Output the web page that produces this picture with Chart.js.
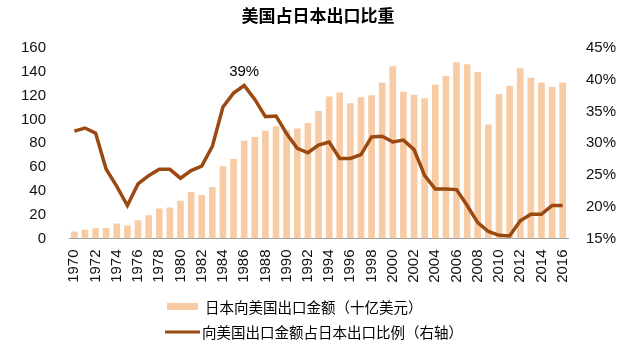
<!DOCTYPE html>
<html>
<head>
<meta charset="utf-8">
<script src="https://cdn.jsdelivr.net/npm/chart.js@4"></script>
<style>
  html, body { margin: 0; padding: 0; background: #fff; }
  #wrap { width: 639px; height: 360px; position: relative; }
</style>
</head>
<body>
<div id="wrap"><canvas id="chart" width="639" height="360"></canvas></div>
<script>
// 年份
const years = [
    '1970', '1971', '1972', '1973', '1974', '1975', '1976', '1977', '1978', '1979',
    '1980', '1981', '1982', '1983', '1984', '1985', '1986', '1987', '1988', '1989',
    '1990', '1991', '1992', '1993', '1994', '1995', '1996', '1997', '1998', '1999',
    '2000', '2001', '2002', '2003', '2004', '2005', '2006', '2007', '2008', '2009',
    '2010', '2011', '2012', '2013', '2014', '2015', '2016'
];

// 日本向美国出口金额（十亿美元）
const exportsToUS = [
    5.9, 7.3, 8.7, 8.9, 12.6, 11.0, 15.4, 19.6, 25.3, 26.0,
    31.7, 39.0, 36.5, 43.2, 60.6, 66.8, 82.0, 85.3, 90.4, 94.3,
    91.0, 92.4, 97.0, 107.0, 119.3, 122.7, 113.7, 118.7, 120.4, 130.8,
    144.6, 123.2, 120.7, 117.9, 129.1, 136.4, 148.0, 146.3, 139.8, 95.7,
    121.3, 128.3, 142.9, 135.0, 131.1, 127.2, 131.1
];

// 向美国出口金额占日本出口比例 (%)
const shareOfExports = [
    31.9, 32.4, 31.6, 25.9, 23.2, 20.2, 23.6, 24.9, 25.9, 25.9,
    24.5, 25.7, 26.4, 29.5, 35.7, 37.9, 39.1, 36.9, 34.2, 34.3,
    31.5, 29.2, 28.5, 29.7, 30.2, 27.6, 27.6, 28.2, 31.0, 31.1,
    30.2, 30.5, 29.0, 24.9, 22.8, 22.8, 22.7, 20.2, 17.5, 16.1,
    15.5, 15.4, 17.8, 18.8, 18.8, 20.2, 20.2
];

const leftTicks = [0, 160, 20];    // min, max, step
const rightTicks = [15, 45, 5];
const peakLabel = { year: '1986', text: '39%' };

const chartTitle = '美国占日本出口比重';
const barLabel = '日本向美国出口金额（十亿美元）';
const lineLabel = '向美国出口金额占日本出口比例（右轴）';

const barColor = '#F8CBA4';
const lineColor = '#9A4A10';
const cjkFont = '"Noto Sans CJK SC", "Noto Sans", sans-serif';
const numFont = '"Liberation Sans", Arial, sans-serif';

// 标题、峰值标注和图例
const extrasPlugin = {
    id: 'extras',
    afterDraw(chart) {
        const ctx = chart.ctx;
        ctx.save();

        // 标题
        ctx.fillStyle = '#000';
        ctx.font = 'bold 17px ' + cjkFont;
        ctx.textAlign = 'center';
        ctx.textBaseline = 'middle';
        ctx.fillText(chartTitle, 318, 16);

        // 39% 标注
        const i = years.indexOf(peakLabel.year);
        const x = chart.scales.x.getPixelForValue(i);
        const y = chart.scales.y1.getPixelForValue(shareOfExports[i]);
        ctx.font = '15px ' + numFont;
        ctx.fillText(peakLabel.text, x, y - 14);

        // 图例
        const ds = chart.data.datasets;
        ctx.textAlign = 'left';
        ctx.font = '14.5px ' + cjkFont;
        ctx.fillStyle = barColor;
        ctx.fillRect(167, 303, 31, 7);
        ctx.fillStyle = '#000';
        ctx.fillText(ds[0].label, 205, 307);

        ctx.strokeStyle = lineColor;
        ctx.lineWidth = 3;
        ctx.beginPath();
        ctx.moveTo(165, 332);
        ctx.lineTo(200, 332);
        ctx.stroke();
        ctx.fillText(ds[1].label, 202, 332);

        ctx.restore();
    }
};

const ctx = document.getElementById('chart').getContext('2d');
const chart = new Chart(ctx, {
    data: {
        labels: years,
        datasets: [
            {
                type: 'bar',
                label: barLabel,
                data: exportsToUS,
                backgroundColor: barColor,
                barPercentage: 0.63,
                categoryPercentage: 1,
                yAxisID: 'y',
                order: 2
            },
            {
                type: 'line',
                label: lineLabel,
                data: shareOfExports,
                borderColor: lineColor,
                borderWidth: 3.5,
                pointRadius: 0,
                tension: 0,
                yAxisID: 'y1',
                order: 1
            }
        ]
    },
    options: {
        responsive: false,
        animation: false,
        layout: { padding: { top: 48, bottom: 70, left: 0, right: 0 } },
        plugins: {
            legend: { display: false },
            title: { display: false },
            tooltip: { enabled: false }
        },
        scales: {
            x: {
                grid: { display: false },
                border: { display: true, color: '#9a9a9a', width: 1 },
                ticks: {
                    autoSkip: false,
                    minRotation: 90,
                    maxRotation: 90,
                    padding: 3,
                    color: '#111',
                    font: { family: numFont, size: 15 },
                    callback: (v, i) => (i % 2 === 0 ? years[i] : '')
                },
                afterFit: (s) => { s.height = 51.5; }
            },
            y: {
                position: 'left',
                min: leftTicks[0],
                max: leftTicks[1],
                grid: { display: false },
                border: { display: false },
                ticks: {
                    stepSize: leftTicks[2],
                    padding: 15,
                    color: '#111',
                    font: { family: numFont, size: 15 }
                },
                afterFit: (s) => { s.width = 69; }
            },
            y1: {
                position: 'right',
                min: rightTicks[0],
                max: rightTicks[1],
                grid: { display: false },
                border: { display: false },
                ticks: {
                    stepSize: rightTicks[2],
                    padding: 10,
                    color: '#111',
                    font: { family: numFont, size: 15 },
                    callback: (v) => v + '%'
                },
                afterFit: (s) => { s.width = 71; }
            }
        }
    },
    plugins: [extrasPlugin]
});
</script>
</body>
</html>
